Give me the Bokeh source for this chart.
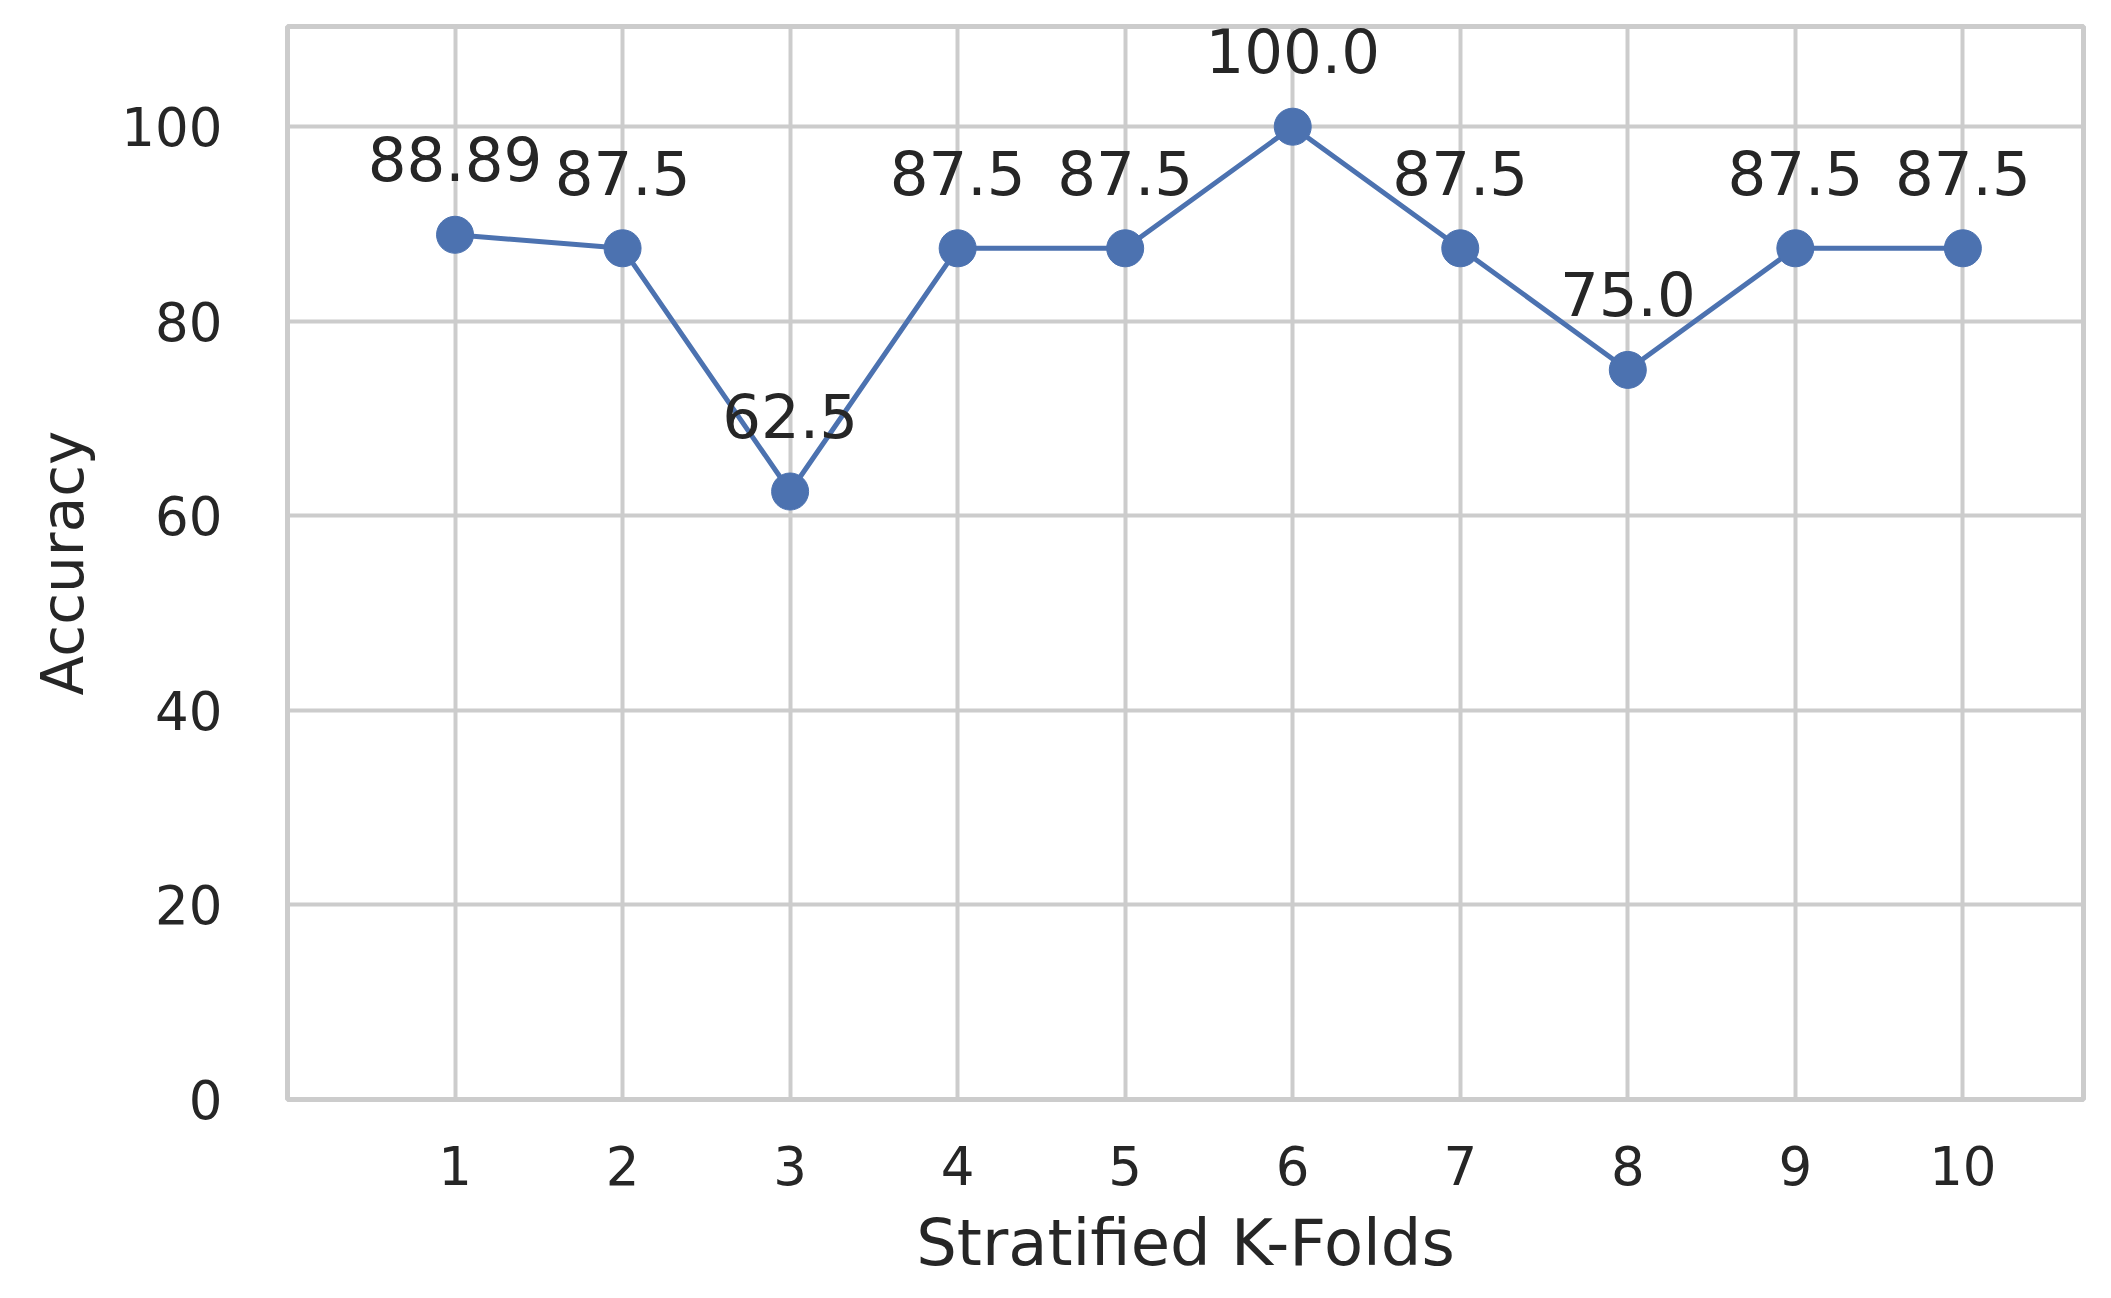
from bokeh.plotting import figure
from bokeh.models import ColumnDataSource, FixedTicker, Range1d
from bokeh.core.properties import value
from bokeh.embed import file_html
from bokeh.resources import INLINE

folds = [1, 2, 3, 4, 5, 6, 7, 8, 9, 10]
accuracy = [88.89, 87.5, 62.5, 87.5, 87.5, 100.0, 87.5, 75.0, 87.5, 87.5]
labels = ["88.89", "87.5", "62.5", "87.5", "87.5", "100.0", "87.5", "75.0", "87.5", "87.5"]
y_ticks = [0, 20, 40, 60, 80, 100]

FONT = "DejaVu Sans"
TXT = "#262626"
GRID = "#cccccc"
BLUE = "#4c72b0"

src = ColumnDataSource(dict(x=folds, y=accuracy, t=labels))

p = figure(width=2095, height=1282, output_backend="svg", toolbar_location=None,
           x_range=Range1d(0, 10.72), y_range=Range1d(0, 110.3),
           min_border_left=287, min_border_right=12, min_border_top=26, min_border_bottom=182)

p.background_fill_color = "white"
p.border_fill_color = "white"
p.outline_line_color = GRID
p.outline_line_width = 5

for g in (p.xgrid, p.ygrid):
    g.grid_line_color = GRID
    g.grid_line_width = 4

p.xaxis.ticker = FixedTicker(ticks=folds)
p.yaxis.ticker = FixedTicker(ticks=y_ticks)

for ax in (p.xaxis, p.yaxis):
    ax.axis_line_color = None
    ax.major_tick_line_color = None
    ax.minor_tick_line_color = None
    ax.major_label_text_font = FONT
    ax.major_label_text_font_size = "53px"
    ax.major_label_text_color = TXT
    ax.axis_label_text_font = FONT
    ax.axis_label_text_font_style = "normal"
    ax.axis_label_text_color = TXT

p.xaxis.axis_label = "Stratified K-Folds"
p.yaxis.axis_label = "Accuracy"
p.xaxis.axis_label_text_font_size = "64px"
p.yaxis.axis_label_text_font_size = "58px"
p.xaxis.major_label_standoff = 40
p.xaxis.axis_label_standoff = 18
p.yaxis.major_label_standoff = 59
p.yaxis.axis_label_standoff = 21

p.line("x", "y", source=src, line_color=BLUE, line_width=5)
p.scatter("x", "y", source=src, size=37, fill_color=BLUE, line_color=BLUE)
p.text("x", "y", text="t", source=src, text_align="center", text_baseline="alphabetic",
       y_offset=-76, text_font=value(FONT), text_font_size="61px", text_color=TXT)

open("out.html", "w").write(file_html(p, INLINE))
